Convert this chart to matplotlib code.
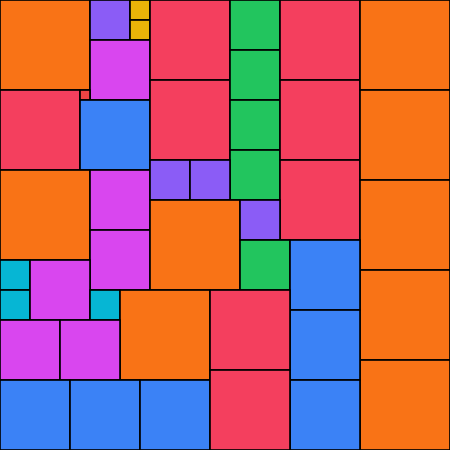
import matplotlib
matplotlib.use("Agg")
import matplotlib.pyplot as plt

# Category of each tile
groups = ["orange", "purple", "yellow", "yellow", "magenta", "rose", "red", "blue",
          "rose", "rose", "green", "green", "green", "green", "rose", "rose", "rose",
          "orange", "orange", "orange", "orange", "orange", "orange", "magenta", "magenta",
          "cyan", "cyan", "magenta", "cyan", "purple", "purple", "orange", "purple", "green",
          "blue", "blue", "blue", "orange", "magenta", "magenta", "blue", "blue", "blue",
          "rose", "rose"]
# Tile widths and heights
widths = [90, 40, 20, 20, 60, 80, 10, 70, 80, 80, 50, 50, 50, 50, 80, 80, 80,
          90, 90, 90, 90, 90, 90, 60, 60, 30, 30, 60, 30, 40, 40, 90, 40, 50,
          70, 70, 70, 90, 60, 60, 70, 70, 70, 80, 80]
heights = [90, 40, 20, 20, 60, 80, 10, 70, 80, 80, 50, 50, 50, 50, 80, 80, 80,
           90, 90, 90, 90, 90, 90, 60, 60, 30, 30, 60, 30, 40, 40, 90, 40, 50,
           70, 70, 70, 90, 60, 60, 70, 70, 70, 80, 80]
# Layout of tiles (left, top)
lefts = [0, 90, 130, 130, 90, 0, 80, 80, 150, 150, 230, 230, 230, 230, 280, 280, 280,
         360, 360, 360, 360, 360, 0, 90, 90, 0, 0, 30, 90, 150, 190, 150, 240, 240,
         290, 290, 290, 120, 0, 60, 0, 70, 140, 210, 210]
tops = [0, 0, 0, 20, 40, 90, 90, 100, 0, 80, 0, 50, 100, 150, 0, 80, 160,
        0, 90, 180, 270, 360, 170, 170, 230, 260, 290, 260, 290, 160, 160, 200, 200, 240,
        240, 310, 380, 290, 320, 320, 380, 380, 380, 290, 370]

palette = {
    "orange": "#f97316", "purple": "#8b5cf6", "yellow": "#eab308",
    "magenta": "#d946ef", "rose": "#f43f5e", "red": "#ef4444",
    "blue": "#3b82f6", "green": "#22c55e", "cyan": "#06b6d4",
}

fig = plt.figure(figsize=(4.5, 4.5), dpi=100)
ax = fig.add_axes([0, 0, 1, 1])
ax.bar(lefts, heights, width=widths, bottom=tops, align="edge",
       color=[palette[g] for g in groups], edgecolor="black", linewidth=1.2)
ax.set_xlim(0, 450)
ax.set_ylim(450, 0)
ax.axis("off")
fig.savefig("out.png", dpi=100)
